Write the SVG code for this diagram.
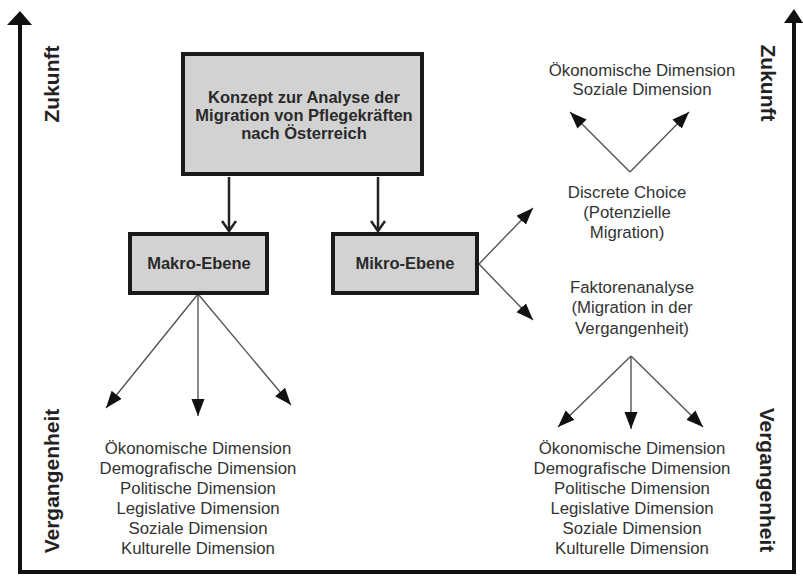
<svg xmlns="http://www.w3.org/2000/svg" width="803" height="578" viewBox="0 0 803 578">
<style>
.box{fill:#d2d2d2;stroke:#1a1a1a;stroke-width:4}
.bt{font-family:"Liberation Sans",Arial,sans-serif;font-weight:bold;font-size:16.5px;fill:#2a2a2a;text-anchor:middle}
.t{font-family:"Liberation Sans",Arial,sans-serif;font-size:16.8px;fill:#333;text-anchor:middle}
.ax{font-family:"Liberation Sans",Arial,sans-serif;font-weight:bold;font-size:21px;fill:#222;text-anchor:middle}
.thin{stroke:#555;stroke-width:1.4;fill:none;marker-end:url(#tri)}
.thick{stroke:#222;stroke-width:2.5;fill:none;marker-end:url(#chev)}
.axis{stroke:#111;stroke-width:4;fill:none}
</style>
<defs>
<marker id="tri" markerUnits="userSpaceOnUse" markerWidth="18" markerHeight="14" refX="17" refY="6.5" orient="auto">
<path d="M0,0 L17,6.5 L0,13 z" fill="#111"/>
</marker>
<marker id="chev" markerUnits="userSpaceOnUse" markerWidth="14" markerHeight="16" refX="11" refY="8" orient="auto">
<path d="M1,1 L11,8 L1,15" fill="none" stroke="#222" stroke-width="2.5"/>
</marker>
</defs>
<g id="axes">
<path class="axis" d="M20,24 V572 H794 V22"/>
<path d="M7,25 L20,11 L32,25 z" fill="#111"/>
<path d="M784,23 L794,9 L803,23 z" fill="#111"/>
<text class="ax" transform="translate(59,84) rotate(-90)">Zukunft</text>
<text class="ax" transform="translate(761,83) rotate(90)">Zukunft</text>
<text class="ax" transform="translate(59,481) rotate(-90)">Vergangenheit</text>
<text class="ax" transform="translate(760,480) rotate(90)">Vergangenheit</text>
</g>
<g id="connectors">
<line class="thick" x1="229" y1="177" x2="229" y2="231"/>
<line class="thick" x1="378" y1="177" x2="378" y2="231"/>
<line class="thin" x1="198" y1="294" x2="106" y2="408"/>
<line class="thin" x1="198" y1="294" x2="198" y2="416"/>
<line class="thin" x1="198" y1="294" x2="291" y2="405"/>
<line class="thin" x1="479" y1="264" x2="533" y2="208"/>
<line class="thin" x1="479" y1="264" x2="533" y2="320"/>
<line class="thin" x1="630" y1="172" x2="570" y2="112"/>
<line class="thin" x1="630" y1="172" x2="689" y2="112"/>
<line class="thin" x1="631" y1="356" x2="558" y2="427"/>
<line class="thin" x1="631" y1="356" x2="631" y2="429"/>
<line class="thin" x1="631" y1="356" x2="703" y2="427"/>
</g>
<g id="konzept">
<rect class="box" x="183" y="54" width="239" height="120"/>
<text class="bt" x="304" y="103">Konzept zur Analyse der</text>
<text class="bt" x="304" y="121">Migration von Pflegekräften</text>
<text class="bt" x="304" y="139">nach Österreich</text>
</g>
<g id="makro">
<rect class="box" x="130" y="234" width="137" height="59"/>
<text class="bt" x="199" y="269">Makro-Ebene</text>
</g>
<g id="mikro">
<rect class="box" x="333" y="234" width="144" height="59"/>
<text class="bt" x="405" y="269">Mikro-Ebene</text>
</g>
<g id="makro-dims">
<text class="t" x="198" y="454">Ökonomische Dimension</text>
<text class="t" x="198" y="474">Demografische Dimension</text>
<text class="t" x="198" y="494">Politische Dimension</text>
<text class="t" x="198" y="514">Legislative Dimension</text>
<text class="t" x="198" y="534">Soziale Dimension</text>
<text class="t" x="198" y="554">Kulturelle Dimension</text>
</g>
<g id="future-dims">
<text class="t" x="642" y="76">Ökonomische Dimension</text>
<text class="t" x="642" y="95">Soziale Dimension</text>
</g>
<g id="discrete-choice">
<text class="t" x="627" y="198">Discrete Choice</text>
<text class="t" x="627" y="218">(Potenzielle</text>
<text class="t" x="627" y="238">Migration)</text>
</g>
<g id="faktorenanalyse">
<text class="t" x="632" y="293">Faktorenanalyse</text>
<text class="t" x="632" y="313">(Migration in der</text>
<text class="t" x="632" y="334">Vergangenheit)</text>
</g>
<g id="mikro-dims">
<text class="t" x="632" y="454">Ökonomische Dimension</text>
<text class="t" x="632" y="474">Demografische Dimension</text>
<text class="t" x="632" y="494">Politische Dimension</text>
<text class="t" x="632" y="514">Legislative Dimension</text>
<text class="t" x="632" y="534">Soziale Dimension</text>
<text class="t" x="632" y="554">Kulturelle Dimension</text>
</g>
</svg>
